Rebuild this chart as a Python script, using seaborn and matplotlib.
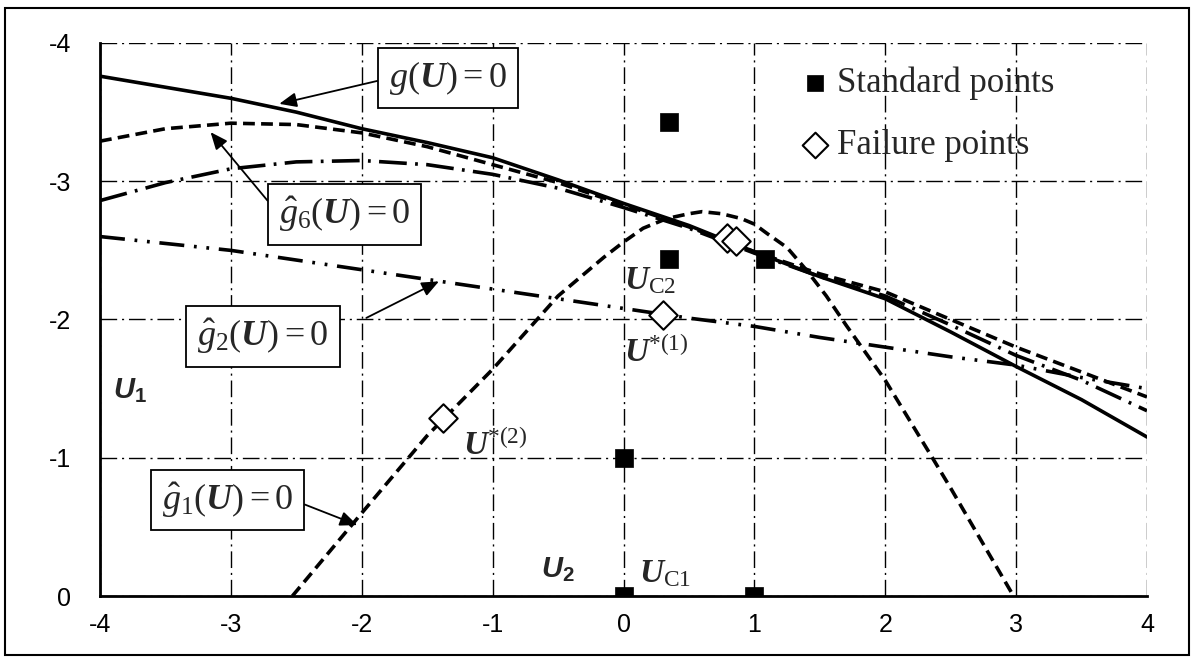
import matplotlib
matplotlib.use("Agg")
import matplotlib.pyplot as plt
import seaborn as sns
from matplotlib.patches import Rectangle

# --- data ---
x_grid = [-4, -3.5, -3, -2.5, -2, -1.5, -1, -0.5, 0, 0.5, 1, 1.5, 2, 2.5, 3, 3.5, 4]

g_true = [-3.76, -3.68, -3.60, -3.50, -3.38, -3.28, -3.17, -3.01, -2.84, -2.68, -2.49,
          -2.31, -2.15, -1.91, -1.66, -1.42, -1.15]
g_hat6 = [-3.29, -3.38, -3.42, -3.41, -3.35, -3.25, -3.12, -2.99, -2.83, -2.67, -2.49,
          -2.33, -2.20, -2.00, -1.80, -1.62, -1.44]
g_hat_other = [-2.86, -2.99, -3.09, -3.14, -3.15, -3.12, -3.05, -2.95, -2.81, -2.66, -2.48,
               -2.31, -2.17, -1.96, -1.74, -1.56, -1.34]
g_hat2 = [-2.60, -2.55, -2.50, -2.43, -2.36, -2.29, -2.22, -2.15, -2.08, -2.01, -1.95,
          -1.87, -1.80, -1.73, -1.67, -1.58, -1.50]

g1_x = [-2.53, -2.0, -1.5, -1.0, -0.5, -0.15, 0.0, 0.15, 0.33, 0.5, 0.6, 0.75, 0.9, 1.0,
        1.1, 1.25, 1.4, 1.55, 1.7, 2.0, 2.36, 2.5, 2.98]
g_hat1 = [0.0, -0.60, -1.16, -1.64, -2.17, -2.45, -2.56, -2.66, -2.73, -2.765, -2.78, -2.765,
          -2.73, -2.69, -2.62, -2.52, -2.355, -2.17, -1.96, -1.56, -1.00, -0.78, 0.0]

std_x = [0.0, 1.0, 0.0, 0.35, 0.35, 1.08]
std_y = [0.0, 0.0, -1.0, -3.43, -2.44, -2.44]

fail_x = [0.30, -1.38, 0.79, 0.86]
fail_y = [-2.03, -1.29, -2.59, -2.57]

ticks_x = [-4, -3, -2, -1, 0, 1, 2, 3, 4]
ticks_y = [0, -1, -2, -3, -4]

# --- style ---
sns.set_style("white")
plt.rcParams['font.family'] = ['Liberation Sans', 'DejaVu Sans']
plt.rcParams['axes.unicode_minus'] = False
plt.rcParams['lines.scale_dashes'] = False
plt.rcParams['mathtext.fontset'] = 'custom'
plt.rcParams['mathtext.rm'] = 'Liberation Serif'
plt.rcParams['mathtext.it'] = 'Liberation Serif:italic'
plt.rcParams['mathtext.bf'] = 'Liberation Serif:italic:bold'
plt.rcParams['mathtext.sf'] = 'Liberation Sans:italic:bold'
plt.rcParams['mathtext.tt'] = 'Liberation Sans:bold'

fig = plt.figure(figsize=(11.92, 6.58), dpi=100)
ax = fig.add_axes([100 / 1192, 1 - 596 / 658, 1047 / 1192, 553 / 658])

grid_ls = (0, (12, 3.5, 1.5, 3.5))
ax.grid(True, color='black', lw=1.0, linestyle=grid_ls)
ax.set_axisbelow(True)

lw = 2.6
sns.lineplot(x=x_grid, y=g_true, ax=ax, color='black', lw=lw, linestyle='-',
             sort=False, estimator=None)
sns.lineplot(x=x_grid, y=g_hat6, ax=ax, color='black', lw=lw, linestyle=(0, (8.5, 4.5)),
             sort=False, estimator=None)
sns.lineplot(x=x_grid, y=g_hat_other, ax=ax, color='black', lw=lw,
             linestyle=(0, (20, 6, 2, 6)), sort=False, estimator=None)
sns.lineplot(x=x_grid, y=g_hat2, ax=ax, color='black', lw=lw,
             linestyle=(0, (18, 7, 2, 7, 2, 7)), sort=False, estimator=None)
sns.lineplot(x=g1_x, y=g_hat1, ax=ax, color='black', lw=lw, linestyle=(0, (8.5, 4.5)),
             sort=False, estimator=None)

sns.scatterplot(x=std_x, y=std_y, ax=ax, marker='s', s=150, color='black',
                edgecolor='black', linewidth=0.5, label='Standard points', zorder=5)
sns.scatterplot(x=fail_x, y=fail_y, ax=ax, marker='D', s=210, color='white',
                edgecolor='black', linewidth=1.5, label='Failure points', zorder=6)

ax.set_xlim(-4, 4)
ax.set_ylim(0, -4)
ax.set_xticks(ticks_x)
ax.set_yticks(ticks_y)
ax.set_xlabel('')
ax.set_ylabel('')
ax.tick_params(axis='both', labelsize=18, direction='out', length=6, width=1.5,
               color='black', labelcolor='black')
ax.tick_params(axis='y', pad=15)
ax.tick_params(axis='x', pad=6)
for side in ['top', 'right']:
    ax.spines[side].set_visible(False)
for side in ['left', 'bottom']:
    ax.spines[side].set_color('black')
    ax.spines[side].set_linewidth(2.0)

leg = ax.legend(loc='upper left', bbox_to_anchor=(0.6695, 0.958), frameon=False,
                prop={'family': 'Liberation Serif', 'size': 25}, handlelength=0.8,
                handletextpad=0.25, labelspacing=0.85, markerscale=0.9,
                borderpad=0, borderaxespad=0)

# --- boxed curve labels with arrows ---
box = dict(boxstyle='square,pad=0.3', fc='white', ec='black', lw=1.3)
arr = dict(arrowstyle='-|>,head_length=0.4,head_width=0.17', color='black', lw=1.3,
           shrinkB=0)
labels = [
    (r'$g\mathit{(}\mathbf{U}\mathit{)=0}$', (-2.63, -3.56), (-1.34, -3.746), (0, 0.5), 0),
    (r'$\hat{g}_{\mathrm{6}}\mathit{(}\mathbf{U}\mathit{)=0}$', (-3.155, -3.355), (-2.13, -2.76), (0, 0.5), 0),
    (r'$\hat{g}_{\mathrm{2}}\mathit{(}\mathbf{U}\mathit{)=0}$', (-1.41, -2.276), (-2.754, -1.875), (1, 0.5), 21),
    (r'$\hat{g}_{\mathrm{1}}\mathit{(}\mathbf{U}\mathit{)=0}$', (-2.034, -0.513), (-3.025, -0.694), (1, 0.5), 0),
]
for txt, tip, center, rel, shA in labels:
    a = dict(arr, relpos=rel, shrinkA=shA)
    ax.annotate(txt, xy=tip, xytext=center, ha='center', va='center', fontsize=26,
                bbox=box, arrowprops=a, zorder=8)

# --- point labels ---
ax.text(-3.90, -1.43, r'$\mathsf{U}_{\mathtt{1}}$', fontsize=21, ha='left', va='baseline')
ax.text(-0.634, -0.13, r'$\mathsf{U}_{\mathtt{2}}$', fontsize=21, ha='left', va='baseline')
ax.text(0.115, -0.10, r'$\mathbf{U}_{\mathrm{C1}}$', fontsize=24, ha='left', va='baseline')
ax.text(0.0, -2.22, r'$\mathbf{U}_{\mathrm{C2}}$', fontsize=24, ha='left', va='baseline')
ax.text(0.0, -1.69, r'$\mathbf{U}^{\mathrm{*(1)}}$', fontsize=24, ha='left', va='baseline')
ax.text(-1.23, -1.02, r'$\mathbf{U}^{\mathrm{*(2)}}$', fontsize=24, ha='left', va='baseline')

# outer frame
fig.patches.append(Rectangle((5 / 1192, 3 / 658), 1184 / 1192, 647 / 658,
                             transform=fig.transFigure, fill=False, ec='black', lw=1.5))

fig.savefig('out.png', dpi=100)
